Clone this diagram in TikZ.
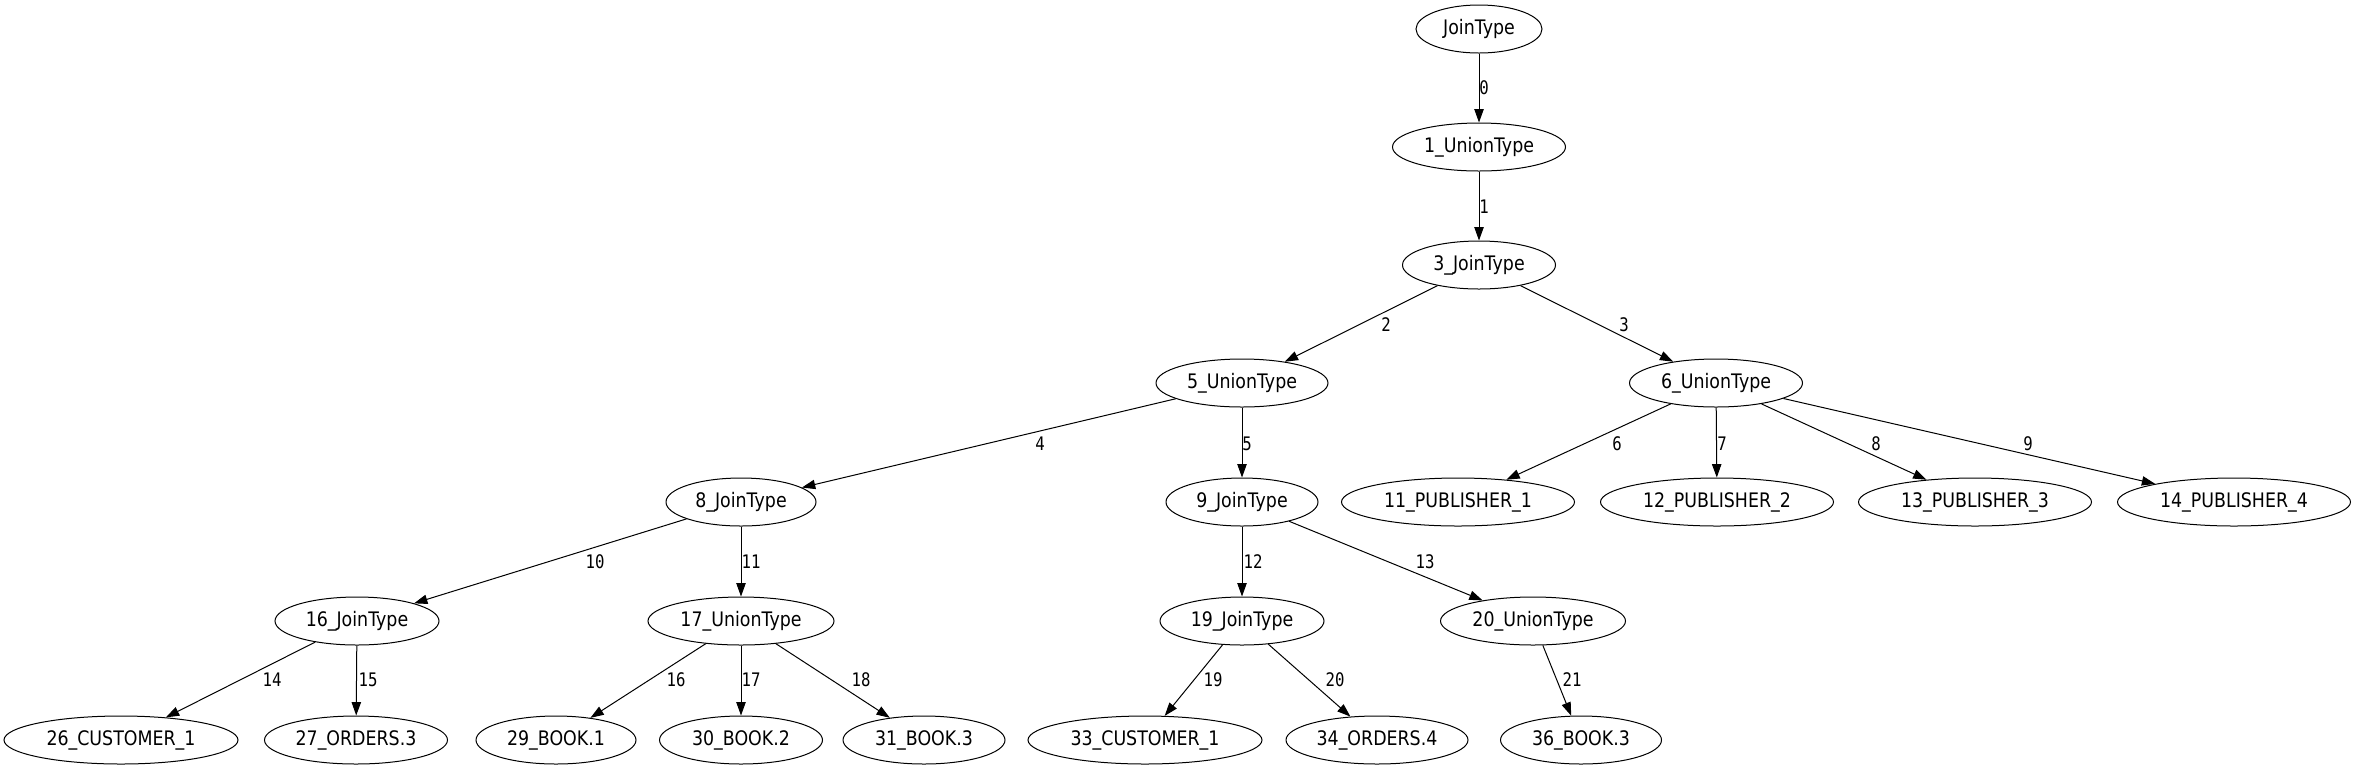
\documentclass[tikz,border=0pt]{standalone}
\usepackage{fontspec}
\usetikzlibrary{shapes.geometric,arrows.meta}
\newfontfamily\nodefont{DejaVu Sans}[FakeStretch=0.87]
\newfontfamily\labfont{DejaVu Sans Mono}[FakeStretch=0.84]
\begin{document}
\begin{tikzpicture}[x=0.75pt,y=-0.75pt,
  gnode/.style={draw,ellipse,line width=0.75pt,minimum height=36pt,minimum width=#1*0.75pt,inner xsep=0pt,inner ysep=2pt,font=\nodefont\fontsize{15pt}{17pt}\selectfont},
  edge/.style={line width=0.75pt,-{Triangle[length=10pt,width=7pt]}},
  lab/.style={font=\labfont\fontsize{14pt}{16pt}\selectfont,inner sep=0pt}]
\useasboundingbox[fill=white] (0,0) rectangle (2357,769);
% nodes
\node[gnode=126] (n0) at (1479,29) {JoinType};
\node[gnode=173] (n1) at (1479,147) {1\_UnionType};
\node[gnode=153] (n3) at (1479,265) {3\_JoinType};
\node[gnode=172] (n5) at (1242,383) {5\_UnionType};
\node[gnode=173] (n6) at (1716,383) {6\_UnionType};
\node[gnode=150] (n8) at (741,502) {8\_JoinType};
\node[gnode=152] (n9) at (1242,502) {9\_JoinType};
\node[gnode=233] (n11) at (1458,502) {11\_PUBLISHER\_1};
\node[gnode=233] (n12) at (1717,502) {12\_PUBLISHER\_2};
\node[gnode=233] (n13) at (1975,502) {13\_PUBLISHER\_3};
\node[gnode=233] (n14) at (2234,502) {14\_PUBLISHER\_4};
\node[gnode=164] (n16) at (357,621) {16\_JoinType};
\node[gnode=186] (n17) at (741,621) {17\_UnionType};
\node[gnode=164] (n19) at (1242,621) {19\_JoinType};
\node[gnode=185] (n20) at (1533,621) {20\_UnionType};
\node[gnode=234] (n26) at (121,740) {26\_CUSTOMER\_1};
\node[gnode=183] (n27) at (356,740) {27\_ORDERS.3};
\node[gnode=160] (n29) at (556,740) {29\_BOOK.1};
\node[gnode=163] (n30) at (741,740) {30\_BOOK.2};
\node[gnode=162] (n31) at (924,740) {31\_BOOK.3};
\node[gnode=234] (n33) at (1145,740) {33\_CUSTOMER\_1};
\node[gnode=182] (n34) at (1377,740) {34\_ORDERS.4};
\node[gnode=161] (n36) at (1581,740) {36\_BOOK.3};
% edges
\draw[edge] (n0) -- (n1) node[lab] at (1484,88) {0};
\draw[edge] (n1) -- (n3) node[lab] at (1484,207) {1};
\draw[edge] (n3) -- (n5) node[lab] at (1386,325) {2};
\draw[edge] (n3) -- (n6) node[lab] at (1624,325) {3};
\draw[edge] (n5) -- (n8) node[lab] at (1040,444) {4};
\draw[edge] (n5) -- (n9) node[lab] at (1247,444) {5};
\draw[edge] (n6) -- (n11) node[lab] at (1617,444) {6};
\draw[edge] (n6) -- (n12) node[lab] at (1722,444) {7};
\draw[edge] (n6) -- (n13) node[lab] at (1876,444) {8};
\draw[edge] (n6) -- (n14) node[lab] at (2028,444) {9};
\draw[edge] (n8) -- (n16) node[lab] at (595,562) {10};
\draw[edge] (n8) -- (n17) node[lab] at (751,562) {11};
\draw[edge] (n9) -- (n19) node[lab] at (1253,562) {12};
\draw[edge] (n9) -- (n20) node[lab] at (1425,562) {13};
\draw[edge] (n16) -- (n26) node[lab] at (272,680) {14};
\draw[edge] (n16) -- (n27) node[lab] at (368,680) {15};
\draw[edge] (n17) -- (n29) node[lab] at (676,680) {16};
\draw[edge] (n17) -- (n30) node[lab] at (751,680) {17};
\draw[edge] (n17) -- (n31) node[lab] at (861,680) {18};
\draw[edge] (n19) -- (n33) node[lab] at (1213,680) {19};
\draw[edge] (n19) -- (n34) node[lab] at (1335,680) {20};
\draw[edge] (n20) -- (n36) node[lab] at (1572,680) {21};
\end{tikzpicture}
\end{document}
